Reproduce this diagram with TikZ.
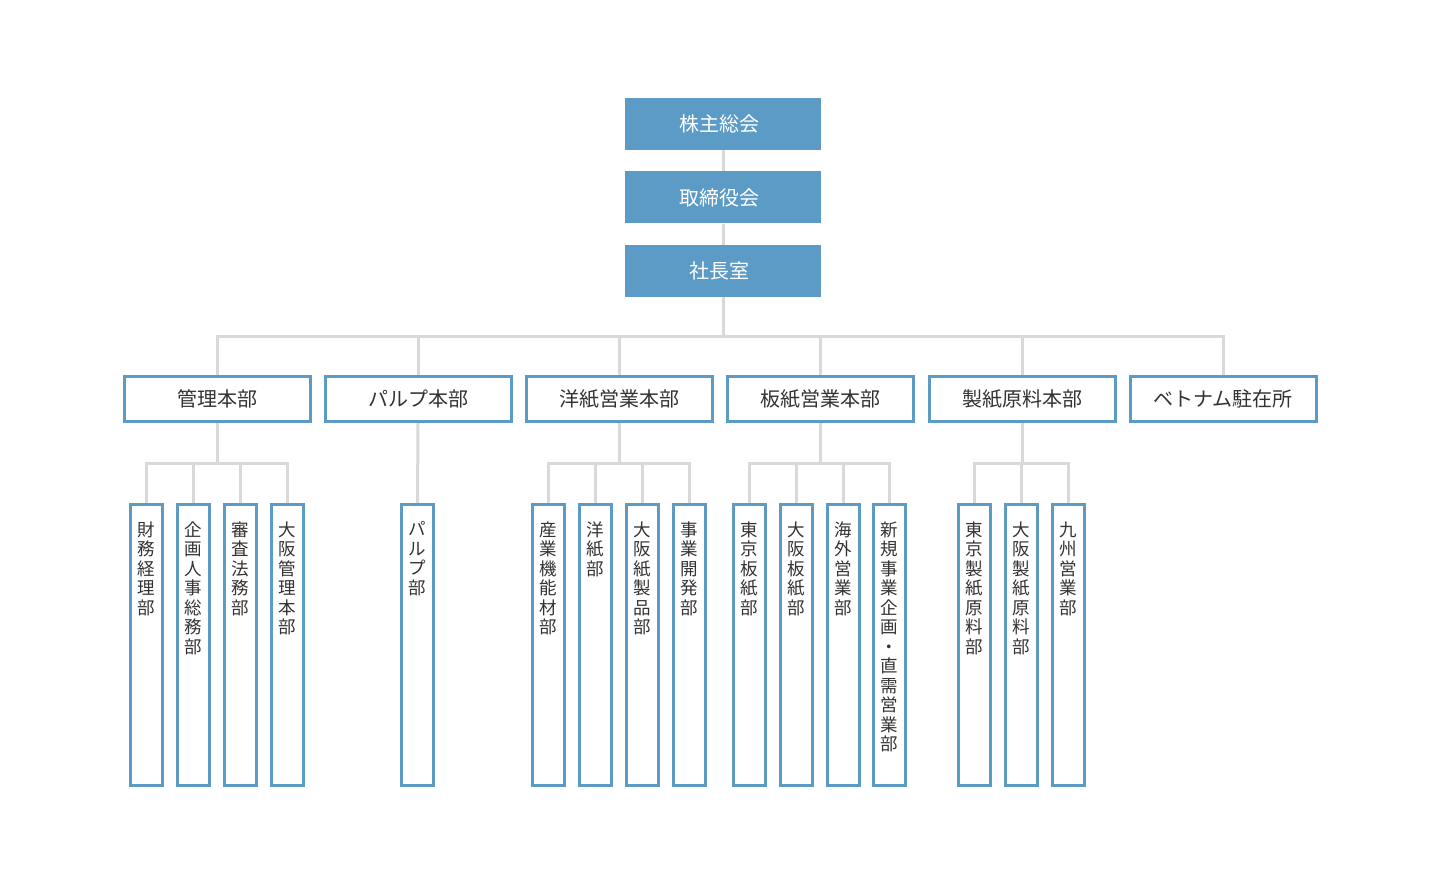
\documentclass[tikz,border=0pt]{standalone}
\usepackage{fontspec}
\newfontfamily\jpfont{Noto Sans CJK JP}
\usetikzlibrary{backgrounds}
\definecolor{boxblue}{HTML}{5B9BC6}
\definecolor{linegray}{HTML}{D9D9D9}
\definecolor{textgray}{HTML}{333333}
\newcommand\tatebox[1]{\parbox[c][281pt][t]{32pt}{\centering\fontsize{17.5}{19.5}\selectfont\vspace*{17pt}#1\par}}
\tikzset{
  topbox/.style={fill=boxblue, minimum width=196, minimum height=52, inner sep=0,
    text=white, font=\jpfont\fontsize{20}{24}\selectfont},
  divbox/.style={draw=boxblue, line width=3, fill=white, minimum width=186,
    minimum height=45, inner sep=0, text=textgray, font=\jpfont\fontsize{20}{24}\selectfont},
  deptbox/.style={draw=boxblue, line width=3, fill=white, minimum width=32,
    minimum height=281, inner sep=0, text=textgray, font=\jpfont},
  link/.style={draw=linegray, line width=3}
}
\begin{document}
\begin{tikzpicture}[x=1pt,y=-1pt]
      \useasboundingbox (0,0) rectangle (1440,885);
      \node[topbox] (agm) at (723,124) {株主総会\kern8pt};
      \node[topbox] (board) at (723,197.5) {取締役会\kern8pt};
      \node[topbox] (pres) at (723,271) {社長室\kern8pt};
      \node[divbox] (admin) at (217.5,399) {管理本部};
      \node[divbox] (pulp) at (418,399) {パルプ本部};
      \node[divbox] (fine) at (619.5,399) {洋紙営業本部};
      \node[divbox] (itagami) at (820.5,399) {板紙営業本部};
      \node[divbox] (rawmat) at (1022,399) {製紙原料本部};
      \node[divbox] (vietnam) at (1223,399) {ベトナム駐在所};
      \node[deptbox] (a1) at (146.5,645) {\tatebox{財\\務\\経\\理\\部}};
      \node[deptbox] (a2) at (193.5,645) {\tatebox{企\\画\\人\\事\\総\\務\\部}};
      \node[deptbox] (a3) at (240.5,645) {\tatebox{審\\査\\法\\務\\部}};
      \node[deptbox] (a4) at (287.5,645) {\tatebox{大\\阪\\管\\理\\本\\部}};
      \node[deptbox] (p1) at (417.5,645) {\tatebox{パ\\ル\\プ\\部}};
      \node[deptbox] (f1) at (548.5,645) {\tatebox{産\\業\\機\\能\\材\\部}};
      \node[deptbox] (f2) at (595.5,645) {\tatebox{洋\\紙\\部}};
      \node[deptbox] (f3) at (642.5,645) {\tatebox{大\\阪\\紙\\製\\品\\部}};
      \node[deptbox] (f4) at (689.5,645) {\tatebox{事\\業\\開\\発\\部}};
      \node[deptbox] (b1) at (749.5,645) {\tatebox{東\\京\\板\\紙\\部}};
      \node[deptbox] (b2) at (796.5,645) {\tatebox{大\\阪\\板\\紙\\部}};
      \node[deptbox] (b3) at (843.5,645) {\tatebox{海\\外\\営\\業\\部}};
      \node[deptbox] (b4) at (889.5,645) {\tatebox{新\\規\\事\\業\\企\\画\\・\\直\\需\\営\\業\\部}};
      \node[deptbox] (r1) at (974.5,645) {\tatebox{東\\京\\製\\紙\\原\\料\\部}};
      \node[deptbox] (r2) at (1021.5,645) {\tatebox{大\\阪\\製\\紙\\原\\料\\部}};
      \node[deptbox] (r3) at (1068.5,645) {\tatebox{九\\州\\営\\業\\部}};
      \begin{scope}[on background layer]
        \coordinate (bus) at (0,336);
        \coordinate (sub) at (0,463);
        \draw[link] (agm) to (board);
        \draw[link] (board) to (pres);
        \draw[link] (pres.south) -- (pres.south |- bus) -| (admin.north);
        \draw[link] (pres.south) -- (pres.south |- bus) -| (pulp.north);
        \draw[link] (pres.south) -- (pres.south |- bus) -| (fine.north);
        \draw[link] (pres.south) -- (pres.south |- bus) -| (itagami.north);
        \draw[link] (pres.south) -- (pres.south |- bus) -| (rawmat.north);
        \draw[link] (pres.south) -- (pres.south |- bus) -| (vietnam.north);
        \draw[link] (admin.south) -- (admin.south |- sub) -| (a1.north);
        \draw[link] (admin.south) -- (admin.south |- sub) -| (a2.north);
        \draw[link] (admin.south) -- (admin.south |- sub) -| (a3.north);
        \draw[link] (admin.south) -- (admin.south |- sub) -| (a4.north);
        \draw[link] (pulp.south) -- (p1.north);
        \draw[link] (fine.south) -- (fine.south |- sub) -| (f1.north);
        \draw[link] (fine.south) -- (fine.south |- sub) -| (f2.north);
        \draw[link] (fine.south) -- (fine.south |- sub) -| (f3.north);
        \draw[link] (fine.south) -- (fine.south |- sub) -| (f4.north);
        \draw[link] (itagami.south) -- (itagami.south |- sub) -| (b1.north);
        \draw[link] (itagami.south) -- (itagami.south |- sub) -| (b2.north);
        \draw[link] (itagami.south) -- (itagami.south |- sub) -| (b3.north);
        \draw[link] (itagami.south) -- (itagami.south |- sub) -| (b4.north);
        \draw[link] (rawmat.south) -- (rawmat.south |- sub) -| (r1.north);
        \draw[link] (rawmat.south) -- (rawmat.south |- sub) -| (r2.north);
        \draw[link] (rawmat.south) -- (rawmat.south |- sub) -| (r3.north);
      \end{scope}
    \end{tikzpicture}
\end{document}
